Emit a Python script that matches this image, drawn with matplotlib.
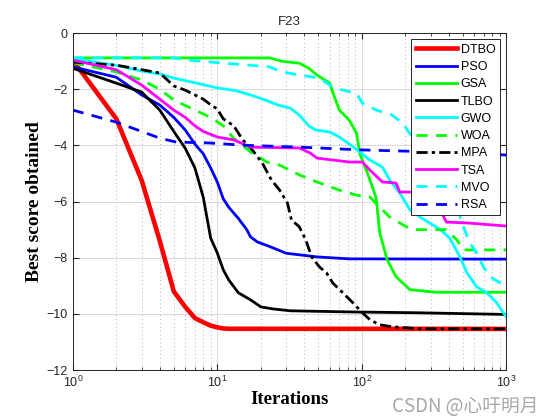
import matplotlib
matplotlib.use('Agg')
import matplotlib.pyplot as plt
from matplotlib.ticker import LogLocator, NullFormatter

plt.rcParams['font.family'] = ['Liberation Sans', 'DejaVu Sans']

# convergence curves (iteration, best score)
dtbo_it = [1, 2, 3, 4, 5, 6, 7, 8, 9, 10, 11, 12, 1000]
dtbo_val = [-0.96, -3.05, -5.25, -7.4, -9.2, -9.75, -10.15, -10.3, -10.42, -10.48, -10.52, -10.53, -10.536]

pso_it = [1, 2, 3, 4, 5, 6, 7, 8, 9, 10, 11, 12, 14, 16, 17, 19, 23, 30, 49, 82, 1000]
pso_val = [-1.2, -1.57, -2.2, -2.56, -3.0, -3.45, -3.95, -4.3, -4.8, -5.3, -5.9, -6.2, -6.6, -7.0,
           -7.26, -7.44, -7.6, -7.84, -7.97, -8.04, -8.05]

gsa_it = [1, 23, 28, 37, 43, 49, 60, 65, 70, 82, 92, 97, 108, 119, 126, 133, 150, 173, 216, 330, 1000]
gsa_val = [-0.88, -0.88, -1.0, -1.07, -1.25, -1.49, -1.78, -2.3, -2.74, -3.1, -3.56, -4.3, -4.9,
           -5.5, -5.9, -7.1, -8.08, -8.68, -9.14, -9.23, -9.23]

tlbo_it = [1, 2, 3, 4, 5, 6, 7, 8, 9, 10, 11, 12, 14, 17, 20, 24, 32, 82, 240, 1000]
tlbo_val = [-1.25, -1.78, -2.1, -2.74, -3.5, -4.1, -4.8, -5.85, -7.3, -7.83, -8.43, -8.79, -9.25,
            -9.5, -9.75, -9.82, -9.89, -9.93, -9.96, -10.02]

gwo_it = [1, 2, 3, 4, 5, 7.5, 10, 13.5, 17, 22, 26, 32, 37, 43, 48, 60, 70, 82, 97, 114, 139, 156,
          183, 216, 253, 295, 350, 406, 478, 535, 625, 736, 860, 1000]
gwo_val = [-0.9, -1.15, -1.35, -1.45, -1.6, -1.8, -1.95, -2.05, -2.2, -2.4, -2.55, -2.67, -2.92,
           -3.3, -3.45, -3.52, -3.7, -3.95, -4.23, -4.52, -4.77, -5.23, -5.69, -6.3, -6.55, -6.76,
           -7.0, -7.3, -7.97, -8.54, -9.04, -9.25, -9.61, -10.1]

woa_it = [1, 2, 3, 4, 5, 7, 9, 11, 13, 17, 22, 27, 37, 49, 70, 92, 114, 133, 156, 204, 240, 385,
          456, 505, 1000]
woa_val = [-1.05, -1.38, -1.67, -2.0, -2.38, -2.74, -3.0, -3.3, -3.75, -4.23, -4.59, -4.7, -5.05,
           -5.3, -5.59, -5.77, -5.84, -6.19, -6.55, -6.9, -7.0, -7.0, -7.37, -7.72, -7.72]

mpa_it = [1, 2, 3, 4, 5, 6, 7, 8, 9, 10, 11, 13, 15, 17.5, 20.5, 23.7, 27, 30.6, 32.6, 37, 41, 45,
          51, 57, 63, 74, 87, 101, 114, 133, 163, 250, 1000]
mpa_val = [-1.03, -1.14, -1.3, -1.42, -1.88, -2.03, -2.2, -2.35, -2.55, -2.7, -3.05, -3.3, -3.8,
           -4.16, -4.63, -5.23, -5.59, -6.05, -6.65, -6.9, -7.37, -7.97, -8.33, -8.54, -8.9,
           -9.25, -9.61, -9.96, -10.21, -10.39, -10.46, -10.53, -10.536]

tsa_it = [1, 2, 3, 4, 5, 6, 7, 8, 10, 13, 17, 37, 44, 49, 82, 101, 114, 139, 173, 183, 330, 350,
          385, 535, 1000]
tsa_val = [-0.96, -1.3, -1.85, -2.35, -2.74, -3.0, -3.3, -3.5, -3.7, -3.8, -4.06, -4.09, -4.27,
           -4.45, -4.59, -4.59, -4.88, -5.3, -5.34, -5.66, -5.66, -6.3, -6.73, -6.76, -6.87]

mvo_it = [1, 5, 6.4, 10, 16.7, 23, 28, 37, 51, 60, 74, 92, 101, 126, 160, 192, 210, 250, 300, 380,
          440, 464, 505, 560, 625, 695, 775, 910, 1000]
mvo_val = [-0.88, -0.88, -0.96, -1.05, -1.14, -1.2, -1.38, -1.49, -1.6, -1.85, -2.03, -2.14, -2.49,
           -2.74, -2.9, -3.2, -3.5, -4.0, -4.7, -5.5, -6.1, -6.3, -6.9, -7.47, -7.83, -8.33,
           -8.68, -8.9, -9.07]

rsa_it = [1, 2, 4, 5.2, 8.8, 15, 37, 101, 315, 1000]
rsa_val = [-2.74, -3.17, -3.74, -3.88, -3.91, -3.99, -4.06, -4.16, -4.23, -4.34]

names = ['DTBO', 'PSO', 'GSA', 'TLBO', 'GWO', 'WOA', 'MPA', 'TSA', 'MVO', 'RSA']

fig = plt.figure(figsize=(5.6, 4.2), dpi=100)
ax = fig.add_axes([0.130, 0.119, 0.774, 0.802])

lw = 2.0
ax.semilogx(dtbo_it, dtbo_val, '-', color='#ff0000', lw=3.3, label=names[0])
ax.semilogx(pso_it, pso_val, '-', color='#0000ff', lw=lw, label=names[1])
ax.semilogx(gsa_it, gsa_val, '-', color='#00ff00', lw=lw, label=names[2])
ax.semilogx(tlbo_it, tlbo_val, '-', color='#000000', lw=lw, label=names[3])
ax.semilogx(gwo_it, gwo_val, '-', color='#00ffff', lw=lw, label=names[4])
ax.semilogx(woa_it, woa_val, color='#00ff00', lw=lw, ls=(0, (4, 3)), label=names[5])
ax.semilogx(mpa_it, mpa_val, color='#000000', lw=lw, ls=(0, (4, 1.5, 1.2, 1.5)), label=names[6])
ax.semilogx(tsa_it, tsa_val, '-', color='#ff00ff', lw=lw, label=names[7])
ax.semilogx(mvo_it, mvo_val, color='#00ffff', lw=lw, ls=(0, (4, 3)), label=names[8])
ax.semilogx(rsa_it, rsa_val, color='#0000ff', lw=lw, ls=(0, (4, 3)), label=names[9])

ax.set_xlim(1, 1000)
ax.set_ylim(-12, 0)
ax.set_yticks(range(-12, 1, 2))
ax.xaxis.set_minor_locator(LogLocator(base=10, subs=range(2, 10)))
ax.xaxis.set_minor_formatter(NullFormatter())

# grid: solid major lines, dotted minor lines on the log axis
ax.grid(True, which='major', color='#dcdcdc', lw=0.8, ls='-')
ax.grid(True, which='minor', axis='x', color='#b4b4b4', lw=0.7, ls=(0, (1, 3)))
ax.set_axisbelow(True)

ax.tick_params(which='both', direction='in', top=True, right=True, labelsize=9,
               colors='#262626', labelcolor='#262626')
ax.tick_params(which='major', length=4)
ax.tick_params(which='minor', length=2)
for s in ax.spines.values():
    s.set_color('#262626')
    s.set_linewidth(0.7)

ax.set_title('F23', fontsize=9.5, color='#262626', pad=6)
ax.set_xlabel('Iterations', fontsize=13.5, fontweight='bold', family='Liberation Serif', labelpad=1)
ax.set_ylabel('Best score obtained', fontsize=14, fontweight='bold', family='Liberation Serif',
              labelpad=3)

leg = ax.legend(loc='upper right', fontsize=9, handlelength=3.3, fancybox=False,
                edgecolor='#262626', framealpha=1, borderpad=0.35, labelspacing=0.42,
                handletextpad=0.3, borderaxespad=0.5)
leg.get_frame().set_linewidth(0.7)

fig.text(0.70, 0.02, 'CSDN @心吁明月', fontsize=13.5, color='#a8a8a8',
         family=['Noto Sans CJK SC', 'DejaVu Sans'])

fig.savefig('out.png', dpi=100)
